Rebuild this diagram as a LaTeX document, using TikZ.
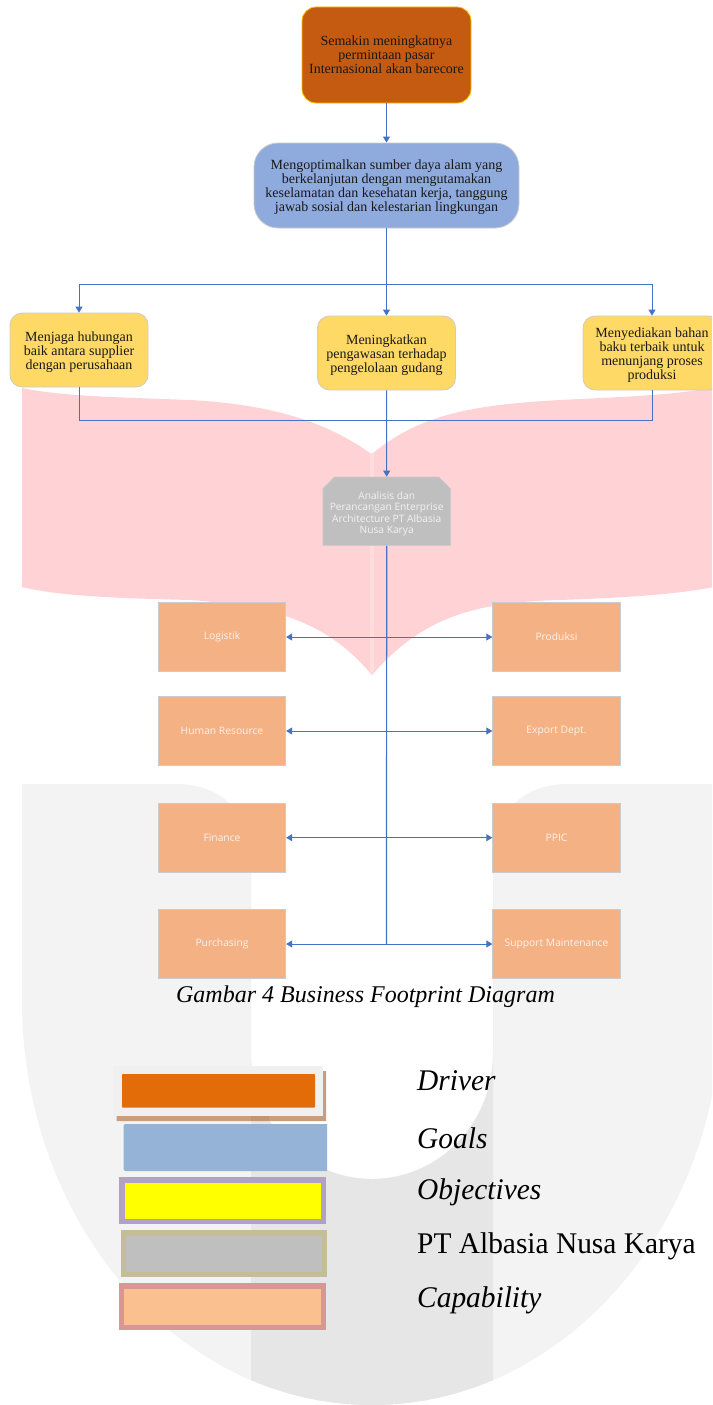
\documentclass[tikz,border=0pt]{standalone}
\usepackage{fontspec}
\usepackage{graphicx}
\setmainfont{Liberation Serif}
\newfontfamily\opensans{Open Sans}
\usetikzlibrary{arrows.meta,shapes.misc}
\definecolor{lnblue}{HTML}{4472C4}
\definecolor{edgegrey}{HTML}{CBCBCB}
\definecolor{wmpink}{HTML}{FFD3D5}
\definecolor{wmpinklt}{HTML}{FFDDDE}
\definecolor{wmlt}{HTML}{F3F3F3}
\definecolor{wmdk}{HTML}{E6E6E6}
\definecolor{drvfill}{HTML}{C55A11}
\definecolor{drvedge}{HTML}{FFC000}
\definecolor{goalfill}{HTML}{8FAADC}
\definecolor{objfill}{HTML}{FFD966}
\definecolor{capfill}{HTML}{F4B183}
\definecolor{archfill}{HTML}{BFBFBF}
\definecolor{lgpanel}{HTML}{F0F0F0}
\definecolor{lgshade}{HTML}{C99E7E}
\definecolor{lgshadedk}{HTML}{BE9575}
\definecolor{lgorange}{HTML}{E36C09}
\definecolor{lgblue}{HTML}{95B3D7}
\definecolor{lgpurple}{HTML}{B2A1C7}
\definecolor{lgyellow}{HTML}{FFFF00}
\definecolor{lgtan}{HTML}{C4BD97}
\definecolor{lgrose}{HTML}{D99694}
\definecolor{lgpeach}{HTML}{FAC090}
\definecolor{softwhite}{HTML}{FBF3EE}
\newcommand{\topgap}[1]{\rule{0pt}{#1pt}}
\tikzset{
  box/.style={draw,line width=.8pt,align=center,inner sep=0pt,text=black!90!white},
  serif/.style={font=\fontsize{14}{14}\selectfont},
  driverbox/.style={box,serif,fill=drvfill,draw=drvedge,rounded corners=14pt,minimum width=169pt,minimum height=96pt},
  goalbox/.style={box,serif,fill=goalfill,draw=edgegrey,rounded corners=24pt,minimum width=265pt,minimum height=85pt},
  objbox/.style={box,serif,fill=objfill,draw=edgegrey,rounded corners=12pt,minimum width=138pt,minimum height=74pt},
  capbox/.style={box,fill=capfill,draw=edgegrey,text=softwhite,font=\opensans\fontsize{10.3}{11}\selectfont,minimum width=127.5pt,minimum height=68.5pt},
  archbox/.style={box,chamfered rectangle,chamfered rectangle corners={north west,north east},chamfered rectangle xsep=6pt,chamfered rectangle ysep=5.5pt,fill=archfill,draw=edgegrey,text=white!95!black,font=\opensans\fontsize{10.2}{11.5}\selectfont,minimum width=127.5pt,minimum height=68.5pt},
  link/.style={draw=lnblue,line width=1pt},
  arrowlink/.style={link,-{Triangle[length=6pt,width=7pt]}},
  bothlink/.style={link,{Triangle[length=6pt,width=7pt]}-{Triangle[length=6pt,width=7pt]}},
  legendtext/.style={anchor=base west,inner sep=0pt,font=\fontsize{30}{30}\selectfont,text=black},
}
\def\upath{(22,784) -- (175,784) .. controls (225,784) and (251,815) .. (251,865) -- (251,1054) .. controls (251,1123) and (305,1179) .. (372,1179) .. controls (439,1179) and (493,1123) .. (493,1054) -- (493,865) .. controls (493,815) and (519,784) .. (569,784) -- (722,784) -- (722,1000) .. controls (722,1224) and (565,1405) .. (372,1405) .. controls (179,1405) and (22,1224) .. (22,1000) -- cycle}
\begin{document}
\begin{tikzpicture}[x=1pt,y=-1pt]
\clip (0,0) rectangle (712,1405);
\fill[white] (0,0) rectangle (712,1405);
% watermark
\fill[wmpink] (22,388) .. controls (60,396) and (110,397) .. (190,400) .. controls (280,405) and (330,425) .. (370,453) -- (373,453) .. controls (420,415) and (470,405) .. (560,400) .. controls (640,396) and (680,395) .. (725,385) -- (725,585) .. controls (680,594) and (640,597) .. (560,600) .. controls (470,602) and (420,620) .. (372,675) .. controls (330,625) and (280,606) .. (190,600) .. controls (110,598) and (60,596) .. (22,587) -- cycle;
\fill[wmpinklt] (370,453) -- (374,453) -- (374,670) -- (372,675) -- (370,672) -- cycle;
\fill[wmlt] \upath;
\begin{scope}
\clip (251,700) rectangle (493,1405);
\fill[wmdk] \upath;
\end{scope}

% nodes
\node[driverbox] (driver) at (386.5,55) {Semakin meningkatnya\\permintaan pasar\\Internasional akan barecore};
\node[goalbox] (goals) at (386.5,185.5) {\topgap{14}Mengoptimalkan sumber daya alam yang\\berkelanjutan dengan mengutamakan\\keselamatan dan kesehatan kerja, tanggung\\jawab sosial dan kelestarian lingkungan};
\node[objbox] (obja) at (79,350) {\topgap{14}Menjaga hubungan\\baik antara supplier\\dengan perusahaan};
\node[objbox] (objb) at (386.5,353) {\topgap{14}Meningkatkan\\pengawasan terhadap\\pengelolaan gudang};
\node[objbox] (objc) at (652,353) {\topgap{14}Menyediakan bahan\\baku terbaik untuk\\menunjang proses\\produksi};
\node[archbox] (arch) at (386.7,511.3) {\topgap{13}Analisis dan\\Perancangan Enterprise\\Architecture PT Albasia\\Nusa Karya};
\node[capbox] (logistik) at (222,637) {Logistik};
\node[capbox] (produksi) at (556.5,637) {Produksi};
\node[capbox] (hr) at (222,731) {Human Resource};
\node[capbox] (export) at (556.5,731) {Export Dept.};
\node[capbox] (finance) at (222,837.7) {Finance};
\node[capbox] (ppic) at (556.5,837.7) {PPIC};
\node[capbox] (purchasing) at (222,944) {Purchasing};
\node[capbox] (support) at (556.5,944) {Support Maintenance};

% junctions
\coordinate (split) at (386.5,284);
\coordinate (merge) at (386.5,420);
\coordinate (foot) at (386.5,944);

% connectors
\draw[arrowlink] (driver.south) -- (goals.north);
\draw[arrowlink] (goals.south) -- (objb.north);
\draw[arrowlink] (split) -| (obja.north);
\draw[arrowlink] (split) -| (objc.north);
\draw[arrowlink] (objb.south) -- (arch.north);
\draw[link] (obja.south) |- (merge);
\draw[link] (objc.south) |- (merge);
\draw[link,line width=1.2pt] (arch.south) -- (foot);
\draw[bothlink] (logistik.east) -- (produksi.west);
\draw[bothlink] (hr.east) -- (export.west);
\draw[bothlink] (finance.east) -- (ppic.west);
\draw[bothlink] (purchasing.east) -- (support.west);

% caption
\node[inner sep=0pt,anchor=base,font=\fontsize{24}{25}\selectfont\itshape,text=black] (caption) at (365.5,1002) {Gambar 4 Business Footprint Diagram};

% legend
\fill[lgpanel] (113,1066) rectangle (323,1116);
\fill[lgshade] (323,1071) -- (326,1071) -- (326,1121) -- (116.5,1121) -- (116.5,1116) -- (323,1116) -- cycle;
\fill[lgshadedk] (251,1116) rectangle (269,1121);
\fill[lgorange,rounded corners=.8pt] (122,1074) rectangle (315,1107.7);
\begin{scope}
\clip (100,1120) rectangle (327,1175);
\fill[lgblue,rounded corners=2pt] (123.6,1124) rectangle (340,1171);
\end{scope}
\fill[lgpurple] (119,1177) rectangle (326,1224);
\fill[lgyellow] (124.5,1182.7) rectangle (320.5,1218.7);
\fill[lgtan] (120.5,1230) rectangle (327,1277);
\fill[archfill] (126,1236) rectangle (322,1272);
\fill[lgrose] (119,1283) rectangle (325.5,1330);
\fill[lgpeach] (123.6,1289) rectangle (320.5,1325);
\node[legendtext] (ldriver) at (417,1090) {\scalebox{.98}[1]{\itshape Driver}};
\node[legendtext] (lgoals) at (417,1148) {\scalebox{.98}[1]{\itshape Goals}};
\node[legendtext] (lobj) at (417,1199) {\scalebox{.98}[1]{\itshape Objectives}};
\node[legendtext] (lpt) at (417,1253) {\scalebox{.98}[1]{PT Albasia Nusa Karya}};
\node[legendtext] (lcap) at (417,1307) {\scalebox{.98}[1]{\itshape Capability}};
\end{tikzpicture}
\end{document}
